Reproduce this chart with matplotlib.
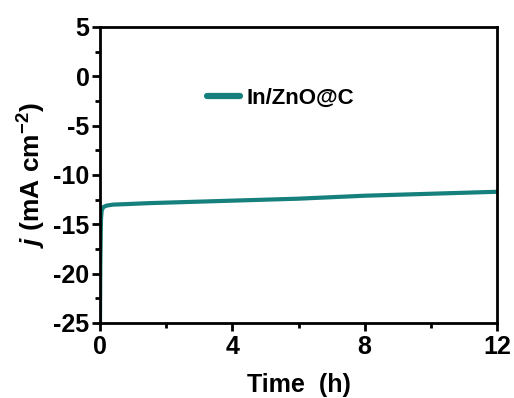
import matplotlib
matplotlib.use('Agg')
import matplotlib.pyplot as plt
from matplotlib.ticker import MultipleLocator

plt.rcParams['font.family'] = ['Liberation Sans', 'DejaVu Sans']
plt.rcParams['font.weight'] = 'bold'
plt.rcParams['axes.unicode_minus'] = False
plt.rcParams['mathtext.fontset'] = 'custom'
plt.rcParams['mathtext.rm'] = 'Liberation Sans:bold'
plt.rcParams['mathtext.it'] = 'Liberation Sans:italic:bold'
plt.rcParams['mathtext.bf'] = 'Liberation Sans:bold'

# chronoamperometry curve
time_h = [0.0, 0.01, 0.03, 0.05, 0.1, 0.2, 0.4, 0.8, 1.5, 2.5, 4.0, 5.0, 6.0, 7.0, 8.0, 9.0, 10.0, 11.0, 12.0]
j_ma = [-25.0, -19.0, -14.5, -13.6, -13.25, -13.1, -13.0, -12.95, -12.85, -12.75, -12.6, -12.5, -12.4, -12.25, -12.1, -12.0, -11.9, -11.8, -11.7]
label = 'In/ZnO@C'

fig = plt.figure(figsize=(5.14, 3.98), dpi=100)
ax = fig.add_axes([100 / 514, 1 - 323 / 398, 397 / 514, 296 / 398])

ax.plot(time_h, j_ma, color='#16807c', lw=3, label=label)

ax.set_xlim(0, 12)
ax.set_ylim(-25, 5)
ax.xaxis.set_major_locator(MultipleLocator(4))
ax.xaxis.set_minor_locator(MultipleLocator(2))
ax.yaxis.set_major_locator(MultipleLocator(5))
ax.yaxis.set_minor_locator(MultipleLocator(2.5))
ax.tick_params(which='both', direction='out', width=2, labelsize=18, top=False, right=False)
ax.tick_params(which='major', length=5.5)
ax.tick_params(which='minor', length=3.5)
ax.tick_params(axis='x', which='major', pad=3)
ax.tick_params(axis='y', which='major', pad=2)
for s in ax.spines.values():
    s.set_linewidth(2)

ax.set_xlabel('Time  (h)', fontsize=18, fontweight='bold', labelpad=10)
ax.set_ylabel(r'$j$ (mA cm$^{-2}$)', fontsize=19, fontweight='bold', labelpad=4)

leg = ax.legend(loc='center left', bbox_to_anchor=(207 / 514, 1 - 98 / 398),
                bbox_transform=fig.transFigure, frameon=False,
                borderpad=0, borderaxespad=0, handlelength=1.5, handletextpad=0.3,
                prop={'weight': 'bold', 'size': 16})
for h in leg.get_lines():
    h.set_linewidth(4.5)
    h.set_solid_capstyle('round')

fig.savefig('out.png', dpi=100)
